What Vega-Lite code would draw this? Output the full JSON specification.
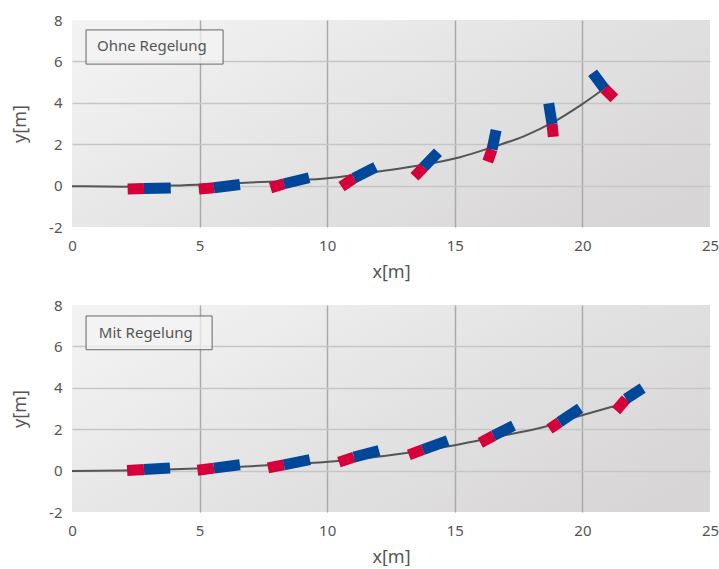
{
  "$schema": "https://vega.github.io/schema/vega-lite/v6.json",
  "padding": {"left": 11, "top": 13, "right": 0, "bottom": 0},
  "background": "white",
  "config": {
    "font": "Noto Sans",
    "view": {"stroke": null},
    "axis": {"domain": false, "ticks": false, "labelColor": "#555555", "titleColor": "#555555", "labelFontSize": 15, "titleFontSize": 18, "titleFontWeight": "normal", "gridWidth": 1.5, "labelFlush": false, "labelExpr": "'' + datum.value"},
    "axisX": {"labelPadding": 11, "titlePadding": 10},
    "axisY": {"labelPadding": 10, "titlePadding": 19}
  },
  "datasets": {
    "curve": [
      {"panel": "Ohne Regelung", "x": 0, "y": -0.03},
      {"panel": "Ohne Regelung", "x": 2, "y": -0.05},
      {"panel": "Ohne Regelung", "x": 4, "y": 0.0},
      {"panel": "Ohne Regelung", "x": 6, "y": 0.1},
      {"panel": "Ohne Regelung", "x": 8, "y": 0.2},
      {"panel": "Ohne Regelung", "x": 9, "y": 0.26},
      {"panel": "Ohne Regelung", "x": 10, "y": 0.35},
      {"panel": "Ohne Regelung", "x": 11, "y": 0.5},
      {"panel": "Ohne Regelung", "x": 12, "y": 0.68},
      {"panel": "Ohne Regelung", "x": 13.6, "y": 0.97},
      {"panel": "Ohne Regelung", "x": 15.2, "y": 1.37},
      {"panel": "Ohne Regelung", "x": 16.46, "y": 1.85},
      {"panel": "Ohne Regelung", "x": 17.7, "y": 2.38},
      {"panel": "Ohne Regelung", "x": 18.84, "y": 3.05},
      {"panel": "Ohne Regelung", "x": 19.95, "y": 3.9},
      {"panel": "Ohne Regelung", "x": 20.86, "y": 4.69},
      {"panel": "Mit Regelung", "x": 0, "y": -0.02},
      {"panel": "Mit Regelung", "x": 2, "y": 0.0},
      {"panel": "Mit Regelung", "x": 4, "y": 0.06},
      {"panel": "Mit Regelung", "x": 6, "y": 0.15},
      {"panel": "Mit Regelung", "x": 8, "y": 0.28},
      {"panel": "Mit Regelung", "x": 9.7, "y": 0.39},
      {"panel": "Mit Regelung", "x": 12.3, "y": 0.72},
      {"panel": "Mit Regelung", "x": 15.1, "y": 1.25},
      {"panel": "Mit Regelung", "x": 16.5, "y": 1.6},
      {"panel": "Mit Regelung", "x": 18.6, "y": 2.14},
      {"panel": "Mit Regelung", "x": 19.95, "y": 2.66},
      {"panel": "Mit Regelung", "x": 21.2, "y": 3.1}
    ],
    "trailers": [
      {"panel": "Ohne Regelung", "part": "rot", "xa": 2.18, "ya": -0.16, "xb": 2.82, "yb": -0.14},
      {"panel": "Ohne Regelung", "part": "blau", "xa": 2.82, "ya": -0.14, "xb": 3.87, "yb": -0.11},
      {"panel": "Ohne Regelung", "part": "rot", "xa": 4.97, "ya": -0.17, "xb": 5.56, "yb": -0.1},
      {"panel": "Ohne Regelung", "part": "blau", "xa": 5.56, "ya": -0.1, "xb": 6.58, "yb": 0.05},
      {"panel": "Ohne Regelung", "part": "rot", "xa": 7.78, "ya": -0.11, "xb": 8.31, "yb": 0.09},
      {"panel": "Ohne Regelung", "part": "blau", "xa": 8.31, "ya": 0.09, "xb": 9.29, "yb": 0.38},
      {"panel": "Ohne Regelung", "part": "rot", "xa": 10.56, "ya": -0.05, "xb": 11.05, "yb": 0.36},
      {"panel": "Ohne Regelung", "part": "blau", "xa": 11.05, "ya": 0.36, "xb": 11.9, "yb": 0.89},
      {"panel": "Ohne Regelung", "part": "rot", "xa": 13.42, "ya": 0.43, "xb": 13.78, "yb": 0.89},
      {"panel": "Ohne Regelung", "part": "blau", "xa": 13.78, "ya": 0.89, "xb": 14.34, "yb": 1.61},
      {"panel": "Ohne Regelung", "part": "rot", "xa": 16.29, "ya": 1.16, "xb": 16.46, "yb": 1.75},
      {"panel": "Ohne Regelung", "part": "blau", "xa": 16.46, "ya": 1.75, "xb": 16.62, "yb": 2.68},
      {"panel": "Ohne Regelung", "part": "rot", "xa": 18.86, "ya": 2.36, "xb": 18.81, "yb": 2.97},
      {"panel": "Ohne Regelung", "part": "blau", "xa": 18.81, "ya": 2.97, "xb": 18.68, "yb": 3.97},
      {"panel": "Ohne Regelung", "part": "rot", "xa": 21.25, "ya": 4.21, "xb": 20.86, "yb": 4.69},
      {"panel": "Ohne Regelung", "part": "blau", "xa": 20.86, "ya": 4.69, "xb": 20.4, "yb": 5.45},
      {"panel": "Mit Regelung", "part": "rot", "xa": 2.16, "ya": 0.0, "xb": 2.82, "yb": 0.05},
      {"panel": "Mit Regelung", "part": "blau", "xa": 2.82, "ya": 0.05, "xb": 3.84, "yb": 0.13},
      {"panel": "Mit Regelung", "part": "rot", "xa": 4.92, "ya": 0.02, "xb": 5.56, "yb": 0.12},
      {"panel": "Mit Regelung", "part": "blau", "xa": 5.56, "ya": 0.12, "xb": 6.58, "yb": 0.28},
      {"panel": "Mit Regelung", "part": "rot", "xa": 7.68, "ya": 0.13, "xb": 8.3, "yb": 0.28},
      {"panel": "Mit Regelung", "part": "blau", "xa": 8.3, "ya": 0.28, "xb": 9.32, "yb": 0.53},
      {"panel": "Mit Regelung", "part": "rot", "xa": 10.46, "ya": 0.41, "xb": 11.05, "yb": 0.65},
      {"panel": "Mit Regelung", "part": "blau", "xa": 11.05, "ya": 0.65, "xb": 12.03, "yb": 0.97},
      {"panel": "Mit Regelung", "part": "rot", "xa": 13.2, "ya": 0.76, "xb": 13.75, "yb": 1.01},
      {"panel": "Mit Regelung", "part": "blau", "xa": 13.75, "ya": 1.01, "xb": 14.72, "yb": 1.45},
      {"panel": "Mit Regelung", "part": "rot", "xa": 16.0, "ya": 1.34, "xb": 16.52, "yb": 1.69},
      {"panel": "Mit Regelung", "part": "blau", "xa": 16.52, "ya": 1.69, "xb": 17.3, "yb": 2.17},
      {"panel": "Mit Regelung", "part": "rot", "xa": 18.71, "ya": 2.01, "xb": 19.1, "yb": 2.34},
      {"panel": "Mit Regelung", "part": "blau", "xa": 19.1, "ya": 2.34, "xb": 19.91, "yb": 3.01},
      {"panel": "Mit Regelung", "part": "rot", "xa": 21.32, "ya": 2.9, "xb": 21.71, "yb": 3.46},
      {"panel": "Mit Regelung", "part": "blau", "xa": 21.71, "ya": 3.46, "xb": 22.36, "yb": 3.98}
    ],
    "labels": [
      {"panel": "Ohne Regelung"},
      {"panel": "Mit Regelung"}
    ]
  },
  "vconcat": [
    {
      "width": 638,
      "height": 207,
      "view": {"fill": {"gradient": "linear", "x1": 0, "y1": 0.2, "x2": 1, "y2": 0.8, "stops": [{"offset": 0, "color": "#f2f2f2"}, {"offset": 0.5, "color": "#e4e3e4"}, {"offset": 1, "color": "#d7d5d6"}]}},
      "layer": [
        {
          "data": {"name": "curve"},
          "transform": [{"filter": "datum.panel == 'Ohne Regelung'"}],
          "mark": {"type": "line", "color": "#555555", "strokeWidth": 2, "interpolate": "monotone"},
          "encoding": {
            "x": {"field": "x", "type": "quantitative", "scale": {"domain": [0, 25], "nice": false}, "axis": {"title": "x[m]", "values": [0, 5, 10, 15, 20, 25], "gridColor": {"condition": {"test": "datum.value == 0 || datum.value == 25", "value": "rgba(0,0,0,0)"}, "value": "#aaaaaa"}}},
            "y": {"field": "y", "type": "quantitative", "scale": {"domain": [-2, 8], "nice": false}, "axis": {"title": "y[m]", "values": [-2, 0, 2, 4, 6, 8], "gridColor": {"condition": {"test": "datum.value == -2 || datum.value == 8", "value": "rgba(0,0,0,0)"}, "value": "#c6c6c6"}}}
          }
        },
        {
          "data": {"name": "trailers"},
          "transform": [{"filter": "datum.panel == 'Ohne Regelung'"}],
          "mark": {"type": "rule", "strokeWidth": 11, "strokeCap": "butt"},
          "encoding": {
            "x": {"field": "xa", "type": "quantitative"},
            "y": {"field": "ya", "type": "quantitative"},
            "x2": {"field": "xb"},
            "y2": {"field": "yb"},
            "color": {"field": "part", "type": "nominal", "scale": {"domain": ["rot", "blau"], "range": ["#d5003b", "#00479a"]}, "legend": null}
          }
        },
        {
          "data": {"name": "labels"},
          "transform": [{"filter": "datum.panel == 'Ohne Regelung'"}],
          "mark": {"type": "rect", "fill": "#f4f4f4", "fillOpacity": 0.7, "stroke": "#666666", "strokeWidth": 1},
          "encoding": {
            "x": {"datum": 0.55, "type": "quantitative"},
            "x2": {"datum": 5.92},
            "y": {"datum": 7.52, "type": "quantitative"},
            "y2": {"datum": 5.87}
          }
        },
        {
          "data": {"name": "labels"},
          "transform": [{"filter": "datum.panel == 'Ohne Regelung'"}],
          "mark": {"type": "text", "align": "left", "baseline": "middle", "fontSize": 15, "color": "#555555"},
          "encoding": {
            "x": {"datum": 0.98, "type": "quantitative"},
            "y": {"datum": 6.72, "type": "quantitative"},
            "text": {"field": "panel"}
          }
        }
      ]
    },
    {
      "width": 638,
      "height": 207,
      "view": {"fill": {"gradient": "linear", "x1": 0, "y1": 0.2, "x2": 1, "y2": 0.8, "stops": [{"offset": 0, "color": "#f2f2f2"}, {"offset": 0.5, "color": "#e4e3e4"}, {"offset": 1, "color": "#d7d5d6"}]}},
      "layer": [
        {
          "data": {"name": "curve"},
          "transform": [{"filter": "datum.panel == 'Mit Regelung'"}],
          "mark": {"type": "line", "color": "#555555", "strokeWidth": 2, "interpolate": "monotone"},
          "encoding": {
            "x": {"field": "x", "type": "quantitative", "scale": {"domain": [0, 25], "nice": false}, "axis": {"title": "x[m]", "values": [0, 5, 10, 15, 20, 25], "gridColor": {"condition": {"test": "datum.value == 0 || datum.value == 25", "value": "rgba(0,0,0,0)"}, "value": "#aaaaaa"}}},
            "y": {"field": "y", "type": "quantitative", "scale": {"domain": [-2, 8], "nice": false}, "axis": {"title": "y[m]", "values": [-2, 0, 2, 4, 6, 8], "gridColor": {"condition": {"test": "datum.value == -2 || datum.value == 8", "value": "rgba(0,0,0,0)"}, "value": "#c6c6c6"}}}
          }
        },
        {
          "data": {"name": "trailers"},
          "transform": [{"filter": "datum.panel == 'Mit Regelung'"}],
          "mark": {"type": "rule", "strokeWidth": 11, "strokeCap": "butt"},
          "encoding": {
            "x": {"field": "xa", "type": "quantitative"},
            "y": {"field": "ya", "type": "quantitative"},
            "x2": {"field": "xb"},
            "y2": {"field": "yb"},
            "color": {"field": "part", "type": "nominal", "scale": {"domain": ["rot", "blau"], "range": ["#d5003b", "#00479a"]}, "legend": null}
          }
        },
        {
          "data": {"name": "labels"},
          "transform": [{"filter": "datum.panel == 'Mit Regelung'"}],
          "mark": {"type": "rect", "fill": "#f4f4f4", "fillOpacity": 0.7, "stroke": "#666666", "strokeWidth": 1},
          "encoding": {
            "x": {"datum": 0.55, "type": "quantitative"},
            "x2": {"datum": 5.49},
            "y": {"datum": 7.47, "type": "quantitative"},
            "y2": {"datum": 5.84}
          }
        },
        {
          "data": {"name": "labels"},
          "transform": [{"filter": "datum.panel == 'Mit Regelung'"}],
          "mark": {"type": "text", "align": "left", "baseline": "middle", "fontSize": 15, "color": "#555555"},
          "encoding": {
            "x": {"datum": 1.05, "type": "quantitative"},
            "y": {"datum": 6.66, "type": "quantitative"},
            "text": {"field": "panel"}
          }
        }
      ]
    }
  ],
  "spacing": 17
}
